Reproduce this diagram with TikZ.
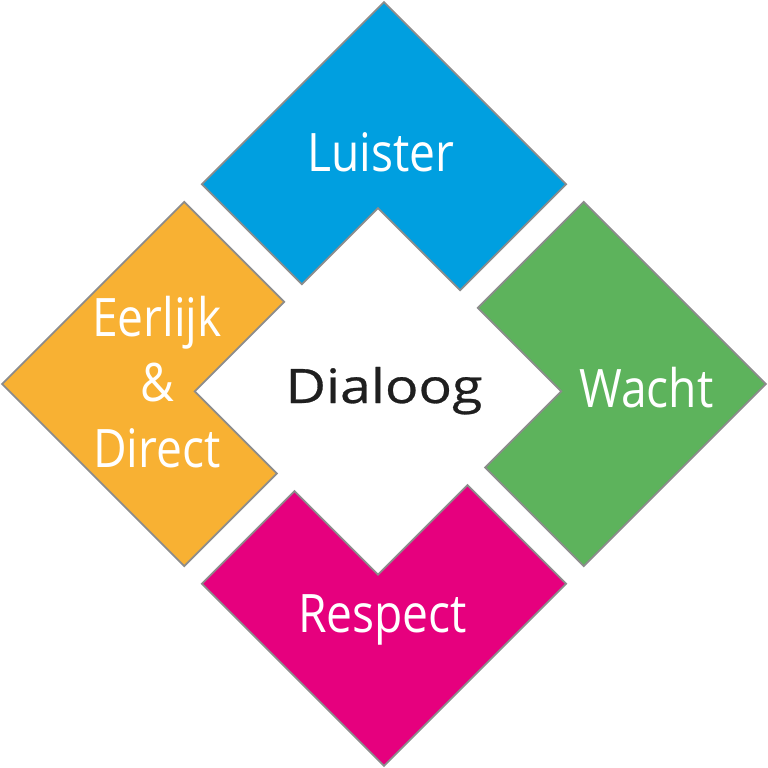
\documentclass[tikz,border=0pt]{standalone}
\usepackage{fontspec}
\newfontfamily\labelfont[FakeStretch=0.87]{Open Sans}
\newfontfamily\hubfont[FakeStretch=1.17,FakeBold=0.6]{Open Sans}
\definecolor{luisterblue}{HTML}{009FE0}
\definecolor{wachtgreen}{HTML}{5DB35C}
\definecolor{respectpink}{HTML}{E6007E}
\definecolor{eerlijkorange}{HTML}{F8B133}
\definecolor{edgegrey}{HTML}{8C8C8C}
\newcommand{\outerR}{2.70}
\newcommand{\innerR}{1.296}
\newcommand{\gapR}{0.125}
\newcommand{\innerX}{-0.095}
\newcommand{\innerY}{-0.01}
% one L-shaped piece, drawn in the frame turned by 45 degrees
\newcommand{\chevron}[3]{%
  \filldraw[piece,fill=#3,rotate=45]
    (#1*\gapR,\innerY+#2*\innerR)--(#1*\gapR,#2*\outerR)--
    (#1*\outerR,#2*\outerR)--(#1*\outerR,#2*\gapR)--
    (\innerX+#1*\innerR,#2*\gapR)--(\innerX+#1*\innerR,\innerY+#2*\innerR)--cycle;}

\begin{document}
\begin{tikzpicture}[
  piece/.style={draw=edgegrey,line width=0.5pt,line join=miter},
  word/.style={text=white,inner sep=0pt,
    font=\labelfont\fontsize{15.1}{18.5}\selectfont},
  hubword/.style={text=black!88,inner sep=0pt,
    font=\hubfont\fontsize{13.5}{16}\selectfont}]
\useasboundingbox (-3.84,-3.84) rectangle (3.84,3.84);

\chevron{1}{1}{luisterblue}
\chevron{1}{-1}{wachtgreen}
\chevron{-1}{-1}{respectpink}
\chevron{-1}{1}{eerlijkorange}

\node[word,anchor=base] (luister) at (-0.03,2.12) {Luister};
\node[word,anchor=base] (wacht) at (2.625,-0.24) {Wacht};
\node[word,anchor=base] (respect) at (-0.015,-2.48) {Respect};
% base of a three-line node sits on its last line
\node[word,anchor=base,align=center] (eerlijk) at (-2.27,-0.83) {Eerlijk\\\&\\Direct};
\node[hubword,anchor=base] (dialoog) at (0,-0.19) {Dialoog};
\end{tikzpicture}
\end{document}
